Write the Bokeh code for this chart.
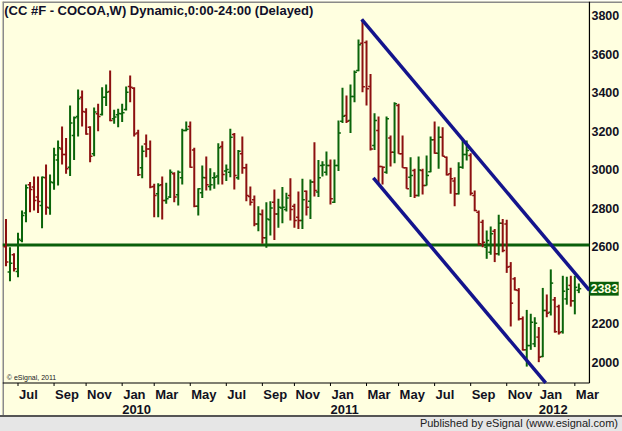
import pandas as pd
from bokeh.plotting import figure
from bokeh.models import Range1d, Label, Div, ColumnDataSource
from bokeh.core.properties import value
from bokeh.layouts import column
from bokeh.embed import file_html
from bokeh.resources import INLINE

# ---------------- data ----------------
weeks = pd.date_range("2009-06-15", periods=144, freq="7D")

opens = [2600, 2470, 2559, 2472, 2633, 2776, 2922, 2910, 2858, 2814,
         2958, 2801, 2932, 3051, 3108, 3079, 3013, 3178, 3276, 3376,
         3299, 3221, 3083, 3290, 3287, 3376, 3406, 3265, 3285, 3290,
         3312, 3432, 3423, 3190, 3010, 3134, 3108, 2913, 2875, 2922,
         2840, 2858, 2979, 2870, 2958, 3204, 3224, 3103, 2811, 2880,
         2958, 2913, 2958, 2967, 3120, 2993, 2987, 3183, 2958, 3083,
         3010, 2861, 2844, 2719, 2768, 2647, 2740, 2832, 2771, 2802,
         2794, 2866, 2811, 2754, 2737, 2889, 2837, 2936, 2884, 3022,
         2987, 3022, 2832, 3022, 3252, 3281, 3255, 3380, 3515, 3656,
         3660, 3432, 3126, 3204, 3017, 2987, 3165, 3091, 3333, 3083,
         3010, 2961, 2996, 2866, 2996, 2918, 2990, 3155, 3086, 3169,
         3065, 2979, 2941, 2875, 3013, 3079, 3074, 2866, 2780, 2728,
         2598, 2572, 2681, 2564, 2723, 2719, 2498, 2434, 2374, 2227,
         2066, 2088, 2097, 2132, 2031, 2270, 2261, 2325, 2290, 2160,
         2330, 2400, 2320, 2375]
highs = [2745, 2598, 2567, 2673, 2789, 2923, 2936, 2965, 2965, 2965,
         3027, 2975, 3114, 3152, 3224, 3164, 3333, 3276, 3416, 3411,
         3319, 3226, 3323, 3342, 3428, 3442, 3515, 3311, 3316, 3342,
         3432, 3489, 3428, 3207, 3126, 3183, 3152, 2927, 2930, 2965,
         2932, 3001, 2987, 2996, 3212, 3250, 3250, 3114, 2904, 3022,
         3069, 3008, 2987, 3138, 3148, 3027, 3212, 3190, 3103, 3172,
         3031, 2913, 2866, 2811, 2794, 2832, 2837, 2897, 2849, 2910,
         2880, 2956, 2823, 2887, 2953, 2892, 2949, 3143, 3051, 3044,
         3095, 3053, 3053, 3255, 3425, 3385, 3442, 3515, 3675, 3779,
         3670, 3497, 3293, 3276, 3017, 3276, 3178, 3350, 3342, 3178,
         3013, 3065, 3005, 3069, 3005, 3074, 3172, 3250, 3224, 3221,
         3069, 3010, 2961, 3039, 3155, 3152, 3086, 2892, 2789, 2740,
         2685, 2706, 2693, 2766, 2745, 2740, 2521, 2443, 2386, 2239,
         2273, 2253, 2235, 2184, 2387, 2353, 2483, 2340, 2300, 2450,
         2445, 2450, 2450, 2410]
lows = [2500, 2422, 2472, 2443, 2624, 2728, 2780, 2789, 2775, 2697,
        2766, 2766, 2896, 2918, 3027, 2979, 2967, 3051, 3172, 3224,
        3181, 3039, 3070, 3200, 3281, 3330, 3252, 3238, 3221, 3247,
        3307, 3350, 3172, 2967, 2956, 3065, 2904, 2754, 2754, 2742,
        2823, 2854, 2832, 2814, 2923, 3200, 3010, 2806, 2763, 2853,
        2892, 2892, 2901, 2923, 2923, 2941, 2961, 2897, 2948, 2979,
        2837, 2814, 2707, 2681, 2616, 2595, 2659, 2636, 2699, 2723,
        2783, 2737, 2699, 2693, 2693, 2763, 2745, 2861, 2858, 2965,
        2970, 2820, 2827, 2993, 3243, 3242, 3190, 3350, 3511, 3402,
        3333, 3100, 3103, 2927, 2923, 2979, 3017, 3034, 3083, 3010,
        2901, 2858, 2854, 2861, 2871, 2918, 2987, 3083, 3005, 3069,
        2970, 2875, 2811, 2871, 3005, 3048, 2866, 2785, 2607, 2598,
        2538, 2559, 2521, 2555, 2572, 2465, 2187, 2374, 2218, 2062,
        1979, 2066, 2080, 2002, 2028, 2235, 2244, 2155, 2145, 2150,
        2300, 2290, 2250, 2360]
closes = [2521, 2515, 2486, 2640, 2763, 2906, 2898, 2840, 2835, 2961,
          2806, 2936, 3077, 3114, 3079, 3005, 3243, 3270, 3368, 3302,
          3186, 3070, 3299, 3276, 3376, 3402, 3255, 3273, 3292, 3296,
          3402, 3428, 3186, 2974, 3096, 3108, 2910, 2866, 2918, 2840,
          2849, 2987, 2858, 2987, 3204, 3210, 3013, 2811, 2901, 2960,
          2922, 2922, 2961, 3114, 2975, 3001, 3169, 2970, 3096, 3010,
          2866, 2832, 2719, 2771, 2647, 2745, 2801, 2771, 2806, 2806,
          2853, 2794, 2737, 2737, 2844, 2806, 2936, 2892, 2958, 3025,
          3022, 2849, 3022, 3190, 3278, 3252, 3380, 3506, 3648, 3430,
          3420, 3108, 3255, 3017, 3013, 3264, 3091, 3342, 3083, 3010,
          2901, 2970, 2866, 2999, 2918, 2970, 3155, 3086, 3169, 3070,
          2974, 2953, 2875, 3013, 3079, 3100, 2878, 2789, 2616, 2624,
          2633, 2668, 2564, 2723, 2581, 2495, 2308, 2377, 2227, 2066,
          2088, 2209, 2204, 2028, 2270, 2256, 2412, 2160, 2155, 2370,
          2380, 2320, 2390, 2383]

price_ticks = [2000, 2200, 2400, 2600, 2800, 3000, 3200, 3400, 3600, 3800]
month_names = {1: "Jan", 3: "Mar", 5: "May", 7: "Jul", 9: "Sep", 11: "Nov"}

support_level = 2610
upper_channel_x = [88.8, 145.65]      # bar index
upper_channel_y = [3780, 2374]
lower_channel_x = [91.7, 134.73]
lower_channel_y = [2958, 1893.9]
last_price = 2383

title_text = "(CC #F - COCOA,W) Dynamic,0:00-24:00 (Delayed)"
copyright_text = "\u00a9 eSignal, 2011"
footer_text = "Published by eSignal (www.esignal.com)"

# ---------------- styling ----------------
BG = "#FFFFE0"
UP = "#0A640A"
DOWN = "#8C1010"
BLUE = "#14148C"
SUPPORT = "#0A5F0A"
TXT = "#111122"
FONT = "Liberation Sans"
PX = 0.1928                                   # pixels per price unit

X0, X_EDGE, X1 = -0.87, 145.65, 153.90        # frame left, price-axis line, frame right
Y1 = 3872.6                                   # frame top
Y0 = Y1 - 414 / PX                            # frame bottom (includes time-axis area)
Y_AXIS = Y1 - 381.5 / PX                      # time-axis line
Y_MONTH = Y1 - 392.5 / PX                     # month label centre
Y_YEAR = Y1 - 407.5 / PX                      # year label centre

n = len(weeks)
xs = list(range(n))
colors = [UP if c >= o else DOWN for o, c in zip(opens, closes)]
src = ColumnDataSource(dict(
    x=xs, xl=[x - 0.6 for x in xs], xr=[x + 0.6 for x in xs],
    o=opens, h=highs, l=lows, c=closes, color=colors))

p = figure(frame_width=620, frame_height=414,
           x_range=Range1d(X0, X1), y_range=Range1d(Y0, Y1),
           x_axis_location=None, y_axis_location=None,
           toolbar_location=None, output_backend="svg",
           min_border_left=2, min_border_top=1, min_border_right=0,
           min_border_bottom=0)
p.background_fill_color = BG
p.border_fill_color = BG
p.outline_line_color = None
p.xgrid.visible = False
p.ygrid.visible = False

# outer grey border (left / top) and black price-axis / time-axis lines
p.segment(x0=[X0, X0], y0=[Y0, Y1], x1=[X0, X1], y1=[Y1, Y1],
          line_color="#8A8A8A", line_width=3)
p.segment(x0=[X_EDGE, X0], y0=[Y_AXIS, Y_AXIS], x1=[X_EDGE, X_EDGE], y1=[Y1, Y_AXIS],
          line_color="black", line_width=1.2)

# support line
p.segment(x0=[X0], y0=[support_level], x1=[X_EDGE], y1=[support_level],
          line_color=SUPPORT, line_width=3)

# OHLC bars
p.segment(x0="x", y0="l", x1="x", y1="h", color="color", line_width=2, source=src)
p.segment(x0="xl", y0="o", x1="x", y1="o", color="color", line_width=1.5, source=src)
p.segment(x0="x", y0="c", x1="xr", y1="c", color="color", line_width=1.5, source=src)

# channel
p.line(upper_channel_x, upper_channel_y, line_color=BLUE, line_width=3.5)
p.line(lower_channel_x, lower_channel_y, line_color=BLUE, line_width=3.5)

# price labels on the right
shown = [t for t in price_ticks if abs(t - last_price) > 40]
p.text(x=[X_EDGE] * len(shown), y=shown, text=[str(t) for t in shown],
       x_offset=2, text_baseline="middle", text_align="left",
       text_font=value(FONT), text_font_style="bold", text_font_size="12.5px",
       text_color=TXT)
p.quad(left=[X_EDGE], right=[X_EDGE + 7.3], bottom=[last_price - 36],
       top=[last_price + 36], fill_color=SUPPORT, line_color=None)
p.text(x=[X_EDGE], y=[last_price], text=[str(last_price)], x_offset=1,
       text_baseline="middle", text_align="left",
       text_font=value(FONT), text_font_style="bold", text_font_size="12.5px",
       text_color=BG)

# ---------------- time axis ----------------
month_ticks = []
seen = set()
for i, d in enumerate(weeks):
    key = (d.year, d.month)
    if key in seen:
        continue
    seen.add(key)
    if d.month in month_names:
        month_ticks.append(i)

p.segment(x0=month_ticks, y0=[Y_AXIS] * len(month_ticks),
          x1=month_ticks, y1=[Y_AXIS - 3 / PX] * len(month_ticks),
          line_color="black", line_width=1)
p.text(x=month_ticks, y=[Y_MONTH] * len(month_ticks),
       text=[month_names[weeks[t].month] for t in month_ticks],
       x_offset=1, text_baseline="middle", text_align="left",
       text_font=value(FONT), text_font_style="bold", text_font_size="13px",
       text_color=TXT)
jan_ticks = [t for t in month_ticks if weeks[t].month == 1]
p.text(x=jan_ticks, y=[Y_YEAR] * len(jan_ticks),
       text=[str(weeks[t].year) for t in jan_ticks],
       x_offset=0, text_baseline="middle", text_align="left",
       text_font=value(FONT), text_font_style="bold", text_font_size="13px",
       text_color=TXT)

# ---------------- texts ----------------
p.add_layout(Label(x=-0.45, y=3866, text=title_text, text_baseline="top",
                   text_font=FONT, text_font_style="bold",
                   text_font_size="13px", text_color="#10102A"))
p.add_layout(Label(x=0.2, y=1905, text=copyright_text, text_baseline="bottom",
                   text_font=FONT, text_font_size="7px", text_color="#202020"))

footer = Div(text=footer_text, width=622, height=16, margin=(0, 0, 0, 0),
             styles={"background-color": "#E6E6E6", "border-top": "2px solid #555555",
                     "font-family": "Liberation Sans, Arial, sans-serif",
                     "font-size": "11px", "color": "#202020", "text-align": "right",
                     "box-sizing": "border-box", "padding-right": "4px",
                     "line-height": "13px", "width": "622px", "overflow": "hidden"})

layout = column(p, footer, spacing=0)
open("out.html", "w").write(file_html(layout, INLINE))
